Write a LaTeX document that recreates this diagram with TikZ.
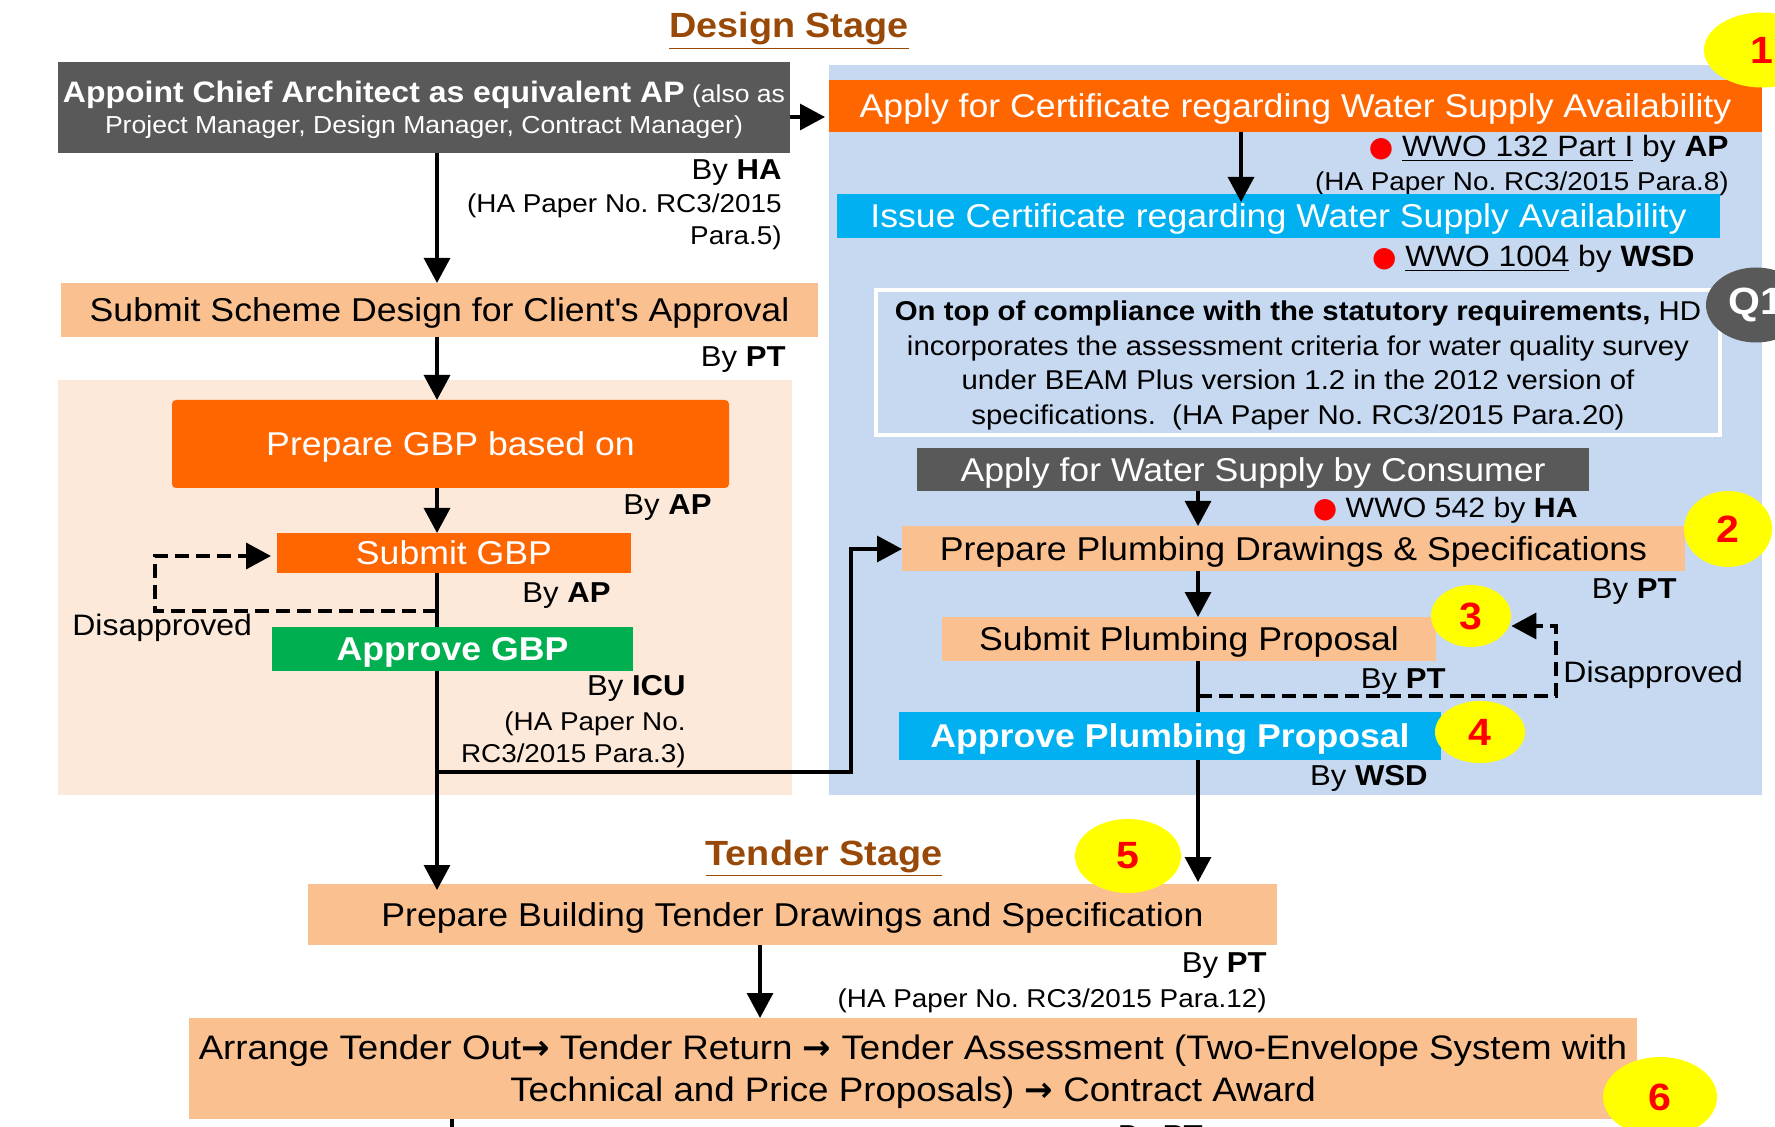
\documentclass[tikz,border=0pt]{standalone}
\usepackage{fontspec}
\setmainfont{Liberation Sans}[FakeStretch=1.08]
\newfontfamily\symfont{DejaVu Sans}
\usetikzlibrary{arrows.meta,shapes.geometric}
\frenchspacing

\definecolor{cGray}{HTML}{595959}
\definecolor{cOrange}{HTML}{FF6600}
\definecolor{cPeach}{HTML}{FAC090}
\definecolor{cPeachBg}{HTML}{FDE9D9}
\definecolor{cBlueBg}{HTML}{C6D9F1}
\definecolor{cCyan}{HTML}{00B0F0}
\definecolor{cGreen}{HTML}{00B050}
\definecolor{cBrown}{HTML}{984807}
\definecolor{cYellow}{HTML}{FFFF00}
\definecolor{cRed}{HTML}{FF0000}

% font sizes
\newcommand\szTitle{\fontsize{17.5}{21}\selectfont\bfseries}
\newcommand\szBox{\fontsize{16.5}{20}\selectfont}
\newcommand\szBy{\fontsize{14.4}{17}\selectfont}
\newcommand\szRef{\fontsize{12.9}{15}\selectfont}
\newcommand\szWwo{\fontsize{14.7}{17}\selectfont}
\newcommand\szNote{\fontsize{13.6}{17.2}\selectfont}
\newcommand\szNum{\fontsize{19}{22}\selectfont\bfseries}
\newcommand\redbullet{{\color{cRed}\symfont\fontsize{14}{14}\selectfont ●}}
\newcommand\stepto{{\symfont\bfseries →}}

\begin{document}
\begin{tikzpicture}[x=0.5pt,y=-0.5pt,
  bx/.style={inner sep=0pt, outer sep=0pt, align=center, font=\szBox, text depth=0pt},
  lbl/.style={inner sep=0pt, anchor=base east, font=\szBy},
  ref/.style={inner sep=0pt, anchor=base east, font=\szRef},
  num/.style={ellipse, fill=cYellow, inner sep=0pt, text=cRed, font=\szNum},
  arr/.style={draw, line width=1.6pt, -{Triangle[length=12.5pt,width=13pt]}},
  ln/.style={draw, line width=1.6pt},
  dsh/.style={draw, line width=1.8pt, dash pattern=on 7pt off 3.5pt,
              -{Triangle[length=12.5pt,width=13pt]}}]

\useasboundingbox (0,0) rectangle (1775,1127);
\clip (0,0) rectangle (1775,1127);

% stage backgrounds
\fill[cPeachBg] (58,380) rectangle (792,795);
\fill[cBlueBg] (829,65) rectangle (1762,795);

% column guides
\coordinate (cL) at (437,0);
\coordinate (cR) at (1198,0);
\coordinate (cC) at (1241,0);
\coordinate (cT) at (760,0);
\coordinate (cB) at (452,0);
\coordinate (ya) at (0,117);

% titles
\node[inner sep=0pt, anchor=base, font=\szTitle, text=cBrown] (tdesign) at (789,38) {\underline{Design Stage}};
\node[inner sep=0pt, anchor=base, font=\szTitle, text=cBrown] (ttender) at (824,865) {\underline{Tender Stage}};

% ---------- left column ----------
\node[bx, fill=cGray, text=white, minimum width=366pt, minimum height=45.5pt,
      font=\fontsize{12.3}{15.5}\selectfont] (appoint) at (424,107.5)
  {{\fontsize{14.8}{15.5}\selectfont\bfseries Appoint Chief Architect as equivalent AP} (also as\\
   Project Manager, Design Manager, Contract Manager)};
\node[lbl] (lbyHA) at (782,180) {By \textbf{HA}};
\node[ref] (lref5a) at (782,213) {(HA Paper No. RC3/2015};
\node[ref] (lref5b) at (782,245) {Para.5)};

\node[bx, fill=cPeach, minimum width=378.5pt, minimum height=27pt] (scheme) at (439.5,310)
  {Submit Scheme Design for Client\textquotesingle s Approval};
\node[lbl] (lbyPT1) at (786,367) {By \textbf{PT}};

\node[bx, fill=cOrange, text=white, rounded corners=2pt, minimum width=278.5pt, minimum height=44pt] (prepgbp) at (450.5,444)
  {Prepare GBP based on};
\node[lbl] (lbyAP1) at (712,515) {By \textbf{AP}};

\node[bx, fill=cOrange, text=white, minimum width=177pt, minimum height=20pt] (submitgbp) at (454,553) {Submit GBP};
\node[lbl] (lbyAP2) at (611,603) {By \textbf{AP}};
\node[inner sep=0pt, anchor=base west, font=\fontsize{14.8}{17}\selectfont] (ldisL) at (72,635) {Disapproved};

\node[bx, fill=cGreen, text=white, font=\szBox\bfseries, minimum width=180.5pt, minimum height=22pt] (approvegbp) at (452.5,649) {Approve GBP};
\node[lbl] (lbyICU) at (686,695) {By \textbf{ICU}};
\node[ref] (lref3a) at (686,730) {(HA Paper No.};
\node[ref] (lref3b) at (686,762) {RC3/2015 Para.3)};

% ---------- right column ----------
\node[bx, fill=cOrange, text=white, minimum width=466.5pt, minimum height=26pt] (applycert) at (1295.5,106)
  {Apply for Certificate regarding Water Supply Availability};
\node[inner sep=0pt, anchor=base east, font=\szWwo] (lwwo132) at (1729,157)
  {\redbullet\ \underline{WWO 132 Part I} by \textbf{AP}};
\node[ref] (lref8) at (1729,191) {(HA Paper No. RC3/2015 Para.8)};

\node[bx, fill=cCyan, text=white, minimum width=441.5pt, minimum height=22pt] (issuecert) at (1278.5,216)
  {Issue Certificate regarding Water Supply Availability};
\node[inner sep=0pt, anchor=base east, font=\szWwo] (lwwo1004) at (1695,267)
  {\redbullet\ \underline{WWO 1004} by \textbf{WSD}};

% note box and its text
\node[fill=cBlueBg, draw=white, line width=2pt, inner sep=0pt,
      minimum width=422pt, minimum height=72.5pt] (note) at (1298,362.5) {};
\node[inner sep=0pt, align=center, font=\szNote] (notetxt) at (1298,365.5)
  {\textbf{On top of compliance with the statutory requirements,} HD\\
   incorporates the assessment criteria for water quality survey\\
   under BEAM Plus version 1.2 in the 2012 version of\\
   specifications.\ \ (HA Paper No. RC3/2015 Para.20)};

\node[bx, fill=cGray, text=white, minimum width=336pt, minimum height=21.5pt] (consumer) at (1253,469.5)
  {Apply for Water Supply by Consumer};
\node[inner sep=0pt, anchor=base east, font=\fontsize{14}{17}\selectfont] (lwwo542) at (1578,517)
  {\redbullet\ WWO 542 by \textbf{HA}};

\node[bx, fill=cPeach, minimum width=391.5pt, minimum height=22.5pt] (plumbdraw) at (1293.5,548.5)
  {Prepare Plumbing Drawings \& Specifications};
\node[lbl] (lbyPT2) at (1677,598) {By \textbf{PT}};

\node[bx, fill=cPeach, minimum width=247pt, minimum height=22pt] (submitplumb) at (1189,639)
  {Submit Plumbing Proposal};
\node[lbl] (lbyPT3) at (1446,688) {By \textbf{PT}};
\node[inner sep=0pt, anchor=base west, font=\fontsize{14.8}{17}\selectfont] (ldisR) at (1563,682) {Disapproved};

\node[bx, fill=cCyan, text=white, font=\szBox\bfseries, minimum width=271pt, minimum height=24pt] (approveplumb) at (1170,736)
  {Approve Plumbing Proposal};
\node[lbl] (lbyWSD) at (1428,785) {By \textbf{WSD}};

% ---------- tender stage ----------
\node[bx, fill=cPeach, minimum width=484.5pt, minimum height=30.5pt] (tenderdraw) at (792.5,914.5)
  {Prepare Building Tender Drawings and Specification};
\node[lbl] (lbyPT4) at (1267,972) {By \textbf{PT}};
\node[ref] (lref12) at (1267,1007) {(HA Paper No. RC3/2015 Para.12)};

\node[bx, fill=cPeach, font=\fontsize{17}{21}\selectfont, minimum width=724pt, minimum height=50.5pt] (arrange) at (913,1068.5)
  {Arrange Tender Out\stepto{} Tender Return \stepto{} Tender Assessment (Two-Envelope System with\\
   Technical and Price Proposals) \stepto{} Contract Award};
\node[lbl] (lbyPT5) at (1203,1145) {By \textbf{PT}};

% ---------- connectors ----------
\draw[arr] (appoint.south -| cL) -- (scheme.north -| cL);
\draw[arr] (scheme.south -| cL) -- (prepgbp.north -| cL);
\draw[arr] (prepgbp.south -| cL) -- (submitgbp.north -| cL);
\draw[ln]  (submitgbp.south -| cL) -- (approvegbp.north -| cL);
\draw[arr] (approvegbp.south -| cL) -- ([yshift=-3pt]tenderdraw.north -| cL);

\coordinate (dL) at (437,611);
\coordinate (dLk) at (155,556);
\draw[dsh] (dL) -| (dLk) -- ([xshift=-3pt]submitgbp.west |- dLk);

\coordinate (bj) at (437,772);
\coordinate (bk) at (851,549);
\draw[arr] (bj) -| (bk) -- (plumbdraw.west |- bk);

\draw[arr] (appoint.east |- ya) -- ([xshift=-2pt]applycert.west |- ya);
\draw[arr] (applycert.south -| cC) -- ([yshift=-4pt]issuecert.north -| cC);
\draw[arr] (consumer.south -| cR) -- (plumbdraw.north -| cR);
\draw[arr] (plumbdraw.south -| cR) -- (submitplumb.north -| cR);
\draw[ln]  (submitplumb.south -| cR) -- (approveplumb.north -| cR);
\draw[arr] (approveplumb.south -| cR) -- ([yshift=1pt]tenderdraw.north -| cR);

\draw[arr] (tenderdraw.south -| cT) -- (arrange.north -| cT);
\coordinate (cBend) at (452,1170);
\draw[ln] (arrange.south -| cB) -- (cBend);

% ---------- markers ----------
\node[num, minimum width=58pt, minimum height=37.5pt] (n1) at (1762,50) {1};
\node[num, minimum width=44pt, minimum height=38pt] (n2) at (1728,529) {2};
\node[num, minimum width=40pt, minimum height=31pt] (n3) at (1471,616) {3};
\node[num, minimum width=45pt, minimum height=31pt] (n4) at (1480,732) {4};
\node[num, minimum width=53pt, minimum height=37pt] (n5) at (1128,856) {5};
\node[num, minimum width=57pt, minimum height=40pt] (n6) at (1660,1097) {6};
\node[ellipse, fill=cGray, inner sep=0pt, text=white, font=\szNum, minimum width=50pt, minimum height=37.5pt] (q1) at (1756,305) {Q1};

\coordinate (dR) at (1198,696);
\coordinate (dRk) at (1556,626);
\draw[dsh] (dR) -| (dRk) -- (n3.east |- dRk);

\end{tikzpicture}
\end{document}
